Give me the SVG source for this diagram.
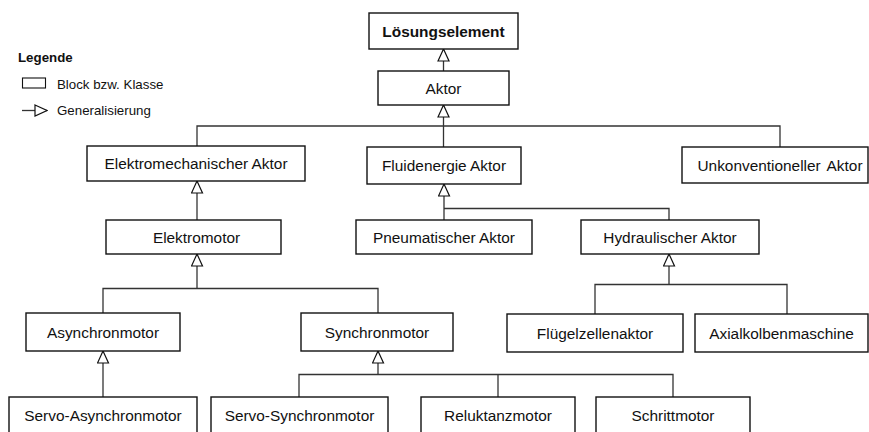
<svg xmlns="http://www.w3.org/2000/svg" width="869" height="432" viewBox="0 0 869 432">
  <style>
    .box { fill: #ffffff; stroke: #111111; stroke-width: 1.4; }
    .lbl { font-family: "Liberation Sans", Arial, sans-serif; font-size: 15.4px; fill: #111111; text-anchor: middle; }
    .bold { font-weight: bold; }
    .leg { font-family: "Liberation Sans", Arial, sans-serif; font-size: 13.3px; fill: #111111; }
    .wire { fill: none; stroke: #333333; stroke-width: 1.3; }
    .gen { fill: none; stroke: #333333; stroke-width: 1.3; marker-end: url(#gen); }
  </style>
  <defs>
    <marker id="gen" viewBox="0 0 14 13" refX="13" refY="6.5" markerWidth="14" markerHeight="13" markerUnits="userSpaceOnUse" orient="auto">
      <path d="M1,1 L13,6.5 L1,12 Z" fill="#ffffff" stroke="#111111" stroke-width="1.2"/>
    </marker>
  </defs>
  <rect width="869" height="432" fill="#ffffff"/>

  <!-- legend -->
  <g id="legend">
    <text class="leg bold" x="18" y="62">Legende</text>
    <rect x="22.5" y="78" width="23" height="10" fill="#ffffff" stroke="#111111" stroke-width="1.1"/>
    <text class="leg" x="57" y="89">Block bzw. Klasse</text>
    <path class="gen" d="M22,110.5 H47"/>
    <text class="leg" x="57" y="115">Generalisierung</text>
  </g>

  <!-- connectors -->
  <g id="connectors">
    <path class="gen" d="M443.5,71 V49"/>
    <path class="gen" d="M443.5,147 V105"/>
    <path class="wire" d="M197,146 V126 H780 V147"/>
    <path class="gen" d="M197,220 V181"/>
    <path class="gen" d="M444,220 V184"/>
    <path class="wire" d="M444,208.5 H669 V220"/>
    <path class="gen" d="M669,284.5 V254"/>
    <path class="wire" d="M595,314 V284.5 H787 V314"/>
    <path class="gen" d="M197,288.5 V254"/>
    <path class="wire" d="M103,313 V288.5 H378 V313"/>
    <path class="gen" d="M103,397 V351"/>
    <path class="gen" d="M378,374.5 V351"/>
    <path class="wire" d="M299,397 V374.5 H673 V397"/>
    <path class="wire" d="M498,374.5 V397"/>
  </g>

  <g id="loesungselement">
    <rect class="box" x="369" y="13" width="149" height="36"/>
    <text class="lbl bold" x="443.5" y="36.5">Lösungselement</text>
  </g>
  <g id="aktor">
    <rect class="box" x="378" y="71" width="131" height="34"/>
    <text class="lbl" x="443.5" y="93.5">Aktor</text>
  </g>
  <g id="elektromechanischer-aktor">
    <rect class="box" x="87" y="146" width="218" height="35"/>
    <text class="lbl" x="196" y="169">Elektromechanischer Aktor</text>
  </g>
  <g id="fluidenergie-aktor">
    <rect class="box" x="367" y="147" width="154" height="37"/>
    <text class="lbl" x="444" y="171">Fluidenergie Aktor</text>
  </g>
  <g id="unkonventioneller-aktor">
    <rect class="box" x="682" y="147" width="186" height="36"/>
    <text class="lbl" x="780" y="170.5" word-spacing="2.5">Unkonventioneller Aktor</text>
  </g>
  <g id="elektromotor">
    <rect class="box" x="106" y="220" width="175" height="34"/>
    <text class="lbl" x="196.5" y="242.5">Elektromotor</text>
  </g>
  <g id="pneumatischer-aktor">
    <rect class="box" x="356" y="220" width="176" height="34"/>
    <text class="lbl" x="444" y="242.5">Pneumatischer Aktor</text>
  </g>
  <g id="hydraulischer-aktor">
    <rect class="box" x="581" y="220" width="178" height="34"/>
    <text class="lbl" x="670" y="242.5">Hydraulischer Aktor</text>
  </g>
  <g id="asynchronmotor">
    <rect class="box" x="26" y="313" width="154" height="38"/>
    <text class="lbl" x="103" y="337.5">Asynchronmotor</text>
  </g>
  <g id="synchronmotor">
    <rect class="box" x="301" y="313" width="152" height="38"/>
    <text class="lbl" x="377" y="337.5">Synchronmotor</text>
  </g>
  <g id="fluegelzellenaktor">
    <rect class="box" x="507" y="314" width="176" height="38"/>
    <text class="lbl" x="595" y="338.5">Flügelzellenaktor</text>
  </g>
  <g id="axialkolbenmaschine">
    <rect class="box" x="695" y="314" width="173" height="38"/>
    <text class="lbl" x="781.5" y="338.5">Axialkolbenmaschine</text>
  </g>
  <g id="servo-asynchronmotor">
    <rect class="box" x="9" y="397" width="188" height="37"/>
    <text class="lbl" x="103" y="421">Servo-Asynchronmotor</text>
  </g>
  <g id="servo-synchronmotor">
    <rect class="box" x="211" y="397" width="177" height="37"/>
    <text class="lbl" x="299.5" y="421">Servo-Synchronmotor</text>
  </g>
  <g id="reluktanzmotor">
    <rect class="box" x="421" y="397" width="154" height="37"/>
    <text class="lbl" x="498" y="421">Reluktanzmotor</text>
  </g>
  <g id="schrittmotor">
    <rect class="box" x="596" y="397" width="154" height="37"/>
    <text class="lbl" x="673" y="421">Schrittmotor</text>
  </g>
</svg>
